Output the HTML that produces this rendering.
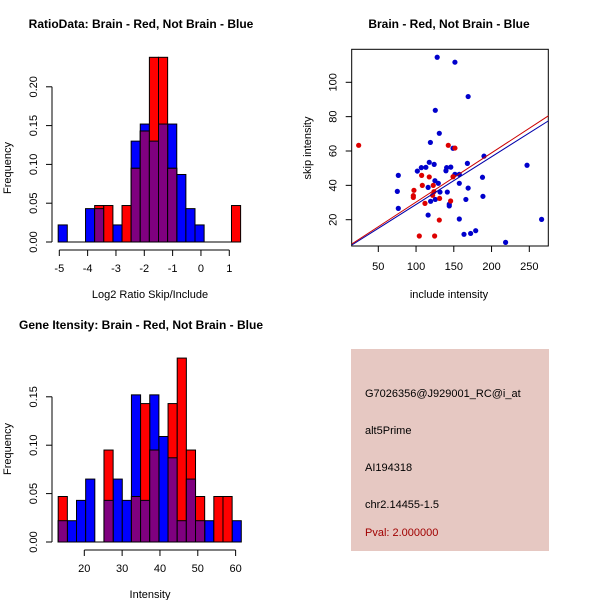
<!DOCTYPE html>
<html><head><meta charset="utf-8">
<style>
html,body{margin:0;padding:0;background:#fff;}
svg{display:block;font-family:"Liberation Sans",sans-serif;}
</style></head>
<body>
<svg id="chart" width="600" height="600" viewBox="0 0 600 600">
  <rect x="0" y="0" width="600" height="600" fill="#fff"/>
  <text x="141" y="28" text-anchor="middle" font-size="12" font-weight="bold">RatioData: Brain - Red, Not Brain - Blue</text>
  <text x="449" y="28" text-anchor="middle" font-size="12" font-weight="bold">Brain - Red, Not Brain - Blue</text>
  <text x="141" y="329" text-anchor="middle" font-size="12" font-weight="bold">Gene Itensity: Brain - Red, Not Brain - Blue</text>
  <g id="g1"></g>
  <g id="g2"></g>
  <g id="g3"></g>
  <g>
    <rect x="351" y="349" width="198" height="202" fill="#e6c8c2"/>
    <text x="365" y="397" font-size="11" fill="#000">G7026356@J929001_RC@i_at</text>
    <text x="365" y="434" font-size="11" fill="#000">alt5Prime</text>
    <text x="365" y="471" font-size="11" fill="#000">AI194318</text>
    <text x="365" y="508" font-size="11" fill="#000">chr2.14455-1.5</text>
    <text x="365" y="536" font-size="11" fill="#a00000">Pval: 2.000000</text>
  </g>
</svg>
<script>
// ---- Ratio histogram data ----
const ratioBinStart = -5.04;
const ratioBinWidth = 0.322;
const ratioBlue = [0.022,0,0,0.043,0.043,0,0.022,0,0.13,0.152,0.13,0.152,0.152,0.087,0.043,0.022,0,0,0,0];
const ratioRed  = [0,0,0,0,0.047,0.047,0,0.047,0.095,0.143,0.238,0.238,0.095,0,0,0,0,0,0,0.047];
const ratioXTicks = [-5,-4,-3,-2,-1,0,1];
const ratioYTicks = [0,0.05,0.10,0.15,0.20];
const ratioYLabels = ["0.00","0.05","0.10","0.15","0.20"];
// ---- Intensity histogram data ----
const intBinStart = 13.1;
const intBinWidth = 2.42;
const intBlue = [0.022,0.022,0.043,0.065,0,0.043,0.065,0.043,0.152,0.043,0.152,0.109,0.087,0.022,0.065,0.022,0.022,0,0,0.022];
const intRed  = [0.047,0,0,0,0,0.095,0,0,0.047,0.143,0.095,0,0.143,0.19,0.095,0.047,0,0.047,0.047,0];
const intXTicks = [20,30,40,50,60];
const intYTicks = [0,0.05,0.10,0.15];
const intYLabels = ["0.00","0.05","0.10","0.15"];
// ---- Scatter data ----
const blueX = [128,151.5,169,125.5,130.8,119,149,168,190,247,117.5,124,113,107,101.7,140.5,146,139.6,76.5,75.2,76.5,116,125,129.5,131.7,141.4,151.5,157.3,157.3,169,188,188.6,166,119.3,125.5,144,144,116,157.3,163.5,172.3,179,218.6,266.3];
const blueY = [114.6,111.7,91.7,83.7,70.3,65,61.6,52.8,57,51.7,53.4,52.2,50.5,50.3,48.3,50.3,50.6,48.5,45.8,36.5,26.6,38.8,42.7,41.2,36.1,36.1,46.4,46.4,41.2,38.4,44.7,33.6,31.8,30.7,31.8,28,29,22.7,20.4,11.5,12,13.6,6.8,20.2];
const redX = [24,142.7,151.5,107.4,117.5,149,108.3,122.8,97.2,96.4,96.4,123.7,122,111.8,131.2,145.8,130.8,104.3,124.6];
const redY = [63.3,63.3,61.7,45.8,44.9,45,40,40,37.1,34,33,36.3,34.2,29.5,32.4,30.9,19.8,10.5,10.5];
const redFit = [1.58,0.2866];   // intercept, slope
const blueFit = [1.1,0.2777];
const scXTicks = [50,100,150,200,250];
const scYTicks = [20,40,60,80,100];

const NS="http://www.w3.org/2000/svg";
function mk(parent,tag,attrs){const e=document.createElementNS(NS,tag);for(const k in attrs)e.setAttribute(k,attrs[k]);parent.appendChild(e);return e;}

function histogram(g, binStart, binW, blue, red, xTicks, yTicks, yLabels, sx, sy, axisXY, axisYX, xTitle, xTitleX, xTitleY, yTitleY, prefix){
  for(let i=0;i<blue.length;i++){
    const x0=sx(binStart+i*binW), x1=sx(binStart+(i+1)*binW);
    if(blue[i]>0){const r=mk(g,'rect',{x:x0,y:sy(blue[i]),width:x1-x0,height:sy(0)-sy(blue[i]),fill:'#0000ff',stroke:'#000','stroke-width':1});
      
      }
  }
  for(let i=0;i<red.length;i++){
    const x0=sx(binStart+i*binW), x1=sx(binStart+(i+1)*binW);
    if(red[i]>0){const r=mk(g,'rect',{x:x0,y:sy(red[i]),width:x1-x0,height:sy(0)-sy(red[i]),fill:'#ff0000',stroke:'#000','stroke-width':1});
      
      }
    const m=Math.min(red[i],blue[i]);
    if(m>0){const r=mk(g,'rect',{x:x0,y:sy(m),width:x1-x0,height:sy(0)-sy(m),fill:'#7f007f',stroke:'#000','stroke-width':1});
      
      }
  }
  const bl=mk(g,'line',{x1:sx(binStart),x2:sx(binStart+blue.length*binW),y1:sy(0),y2:sy(0),stroke:'#000'});
  
  
  const xa=mk(g,'line',{x1:sx(xTicks[0]),x2:sx(xTicks[xTicks.length-1]),y1:axisXY,y2:axisXY,stroke:'#000'});
  
  
  xTicks.forEach(t=>{
    mk(g,'line',{x1:sx(t),x2:sx(t),y1:axisXY,y2:axisXY+6,stroke:'#000'});
    const tx=mk(g,'text',{x:sx(t),y:axisXY+22,'text-anchor':'middle','font-size':11});
    tx.textContent=t;
    
    
  });
  const ya=mk(g,'line',{x1:axisYX,x2:axisYX,y1:sy(yTicks[0]),y2:sy(yTicks[yTicks.length-1]),stroke:'#000'});
  
  
  yTicks.forEach((t,i)=>{
    mk(g,'line',{x1:axisYX-6,x2:axisYX,y1:sy(t),y2:sy(t),stroke:'#000'});
    const tx=mk(g,'text',{x:0,y:0,'text-anchor':'middle','font-size':11,transform:`translate(${axisYX-15},${sy(t)}) rotate(-90)`});
    tx.textContent=yLabels[i];
    
    
  });
  const xt=mk(g,'text',{x:xTitleX,y:xTitleY,'text-anchor':'middle','font-size':11});
  xt.textContent=xTitle;
  
  
  const yt=mk(g,'text',{x:0,y:0,'text-anchor':'middle','font-size':11,transform:`translate(11,${yTitleY}) rotate(-90)`});
  yt.textContent='Frequency';
  
  
}

(function(){
  const g=document.getElementById('g1');
  const sx=v=>59.3+(v+5)*28.33;
  const sy=v=>242-v*776;
  histogram(g,ratioBinStart,ratioBinWidth,ratioBlue,ratioRed,ratioXTicks,ratioYTicks,ratioYLabels,sx,sy,250,52,'Log2 Ratio Skip/Include',150,298,168,'ratio');
})();
(function(){
  const g=document.getElementById('g3');
  const sx=v=>84.3+(v-20)*3.783;
  const sy=v=>542-v*968;
  histogram(g,intBinStart,intBinWidth,intBlue,intRed,intXTicks,intYTicks,intYLabels,sx,sy,550,52,'Intensity',150,598,449,'intensity');
})();
(function(){
  const g=document.getElementById('g2');
  const sx=v=>378.3+(v-50)*0.755;
  const sy=v=>219.7-(v-20)*1.7175;
  const L=351.7,R=548.3,T=49.3,B=246;
  const box=mk(g,'rect',{x:L,y:T,width:R-L,height:B-T,fill:'none',stroke:'#000'});
  
  
  scXTicks.forEach(t=>{
    mk(g,'line',{x1:sx(t),x2:sx(t),y1:B,y2:B+6,stroke:'#000'});
    const tx=mk(g,'text',{x:sx(t),y:B+24,'text-anchor':'middle','font-size':11});
    tx.textContent=t;
    
    
  });
  scYTicks.forEach(t=>{
    mk(g,'line',{x1:L-6,x2:L,y1:sy(t),y2:sy(t),stroke:'#000'});
    const tx=mk(g,'text',{x:0,y:0,'text-anchor':'middle','font-size':11,transform:`translate(${L-15},${sy(t)}) rotate(-90)`});
    tx.textContent=t;
    
    
  });
  const xt=mk(g,'text',{x:449,y:298,'text-anchor':'middle','font-size':11});
  xt.textContent='include intensity';
  
  
  const yt=mk(g,'text',{x:0,y:0,'text-anchor':'middle','font-size':11,transform:'translate(311,148) rotate(-90)'});
  yt.textContent='skip intensity';
  
  
  const clip=mk(g,'clipPath',{id:'scclip'});
  mk(clip,'rect',{x:L,y:T,width:R-L,height:B-T});
  const pts=mk(g,'g',{'clip-path':'url(#scclip)'});
  
  
  blueX.forEach((x,i)=>{
    const c=mk(pts,'circle',{cx:sx(x),cy:sy(blueY[i]),r:2.6,fill:'#0000cc'});
    
    
  });
  redX.forEach((x,i)=>{
    const c=mk(pts,'circle',{cx:sx(x),cy:sy(redY[i]),r:2.6,fill:'#dd0000'});
    
    
  });
  const x0=15,x1=280;
  const rl=mk(pts,'line',{x1:sx(x0),y1:sy(redFit[0]+redFit[1]*x0),x2:sx(x1),y2:sy(redFit[0]+redFit[1]*x1),stroke:'#cc0000','stroke-width':1});
  
  
  const bl=mk(pts,'line',{x1:sx(x0),y1:sy(blueFit[0]+blueFit[1]*x0),x2:sx(x1),y2:sy(blueFit[0]+blueFit[1]*x1),stroke:'#0000aa','stroke-width':1});
  
  
})();
</script>
</body></html>
